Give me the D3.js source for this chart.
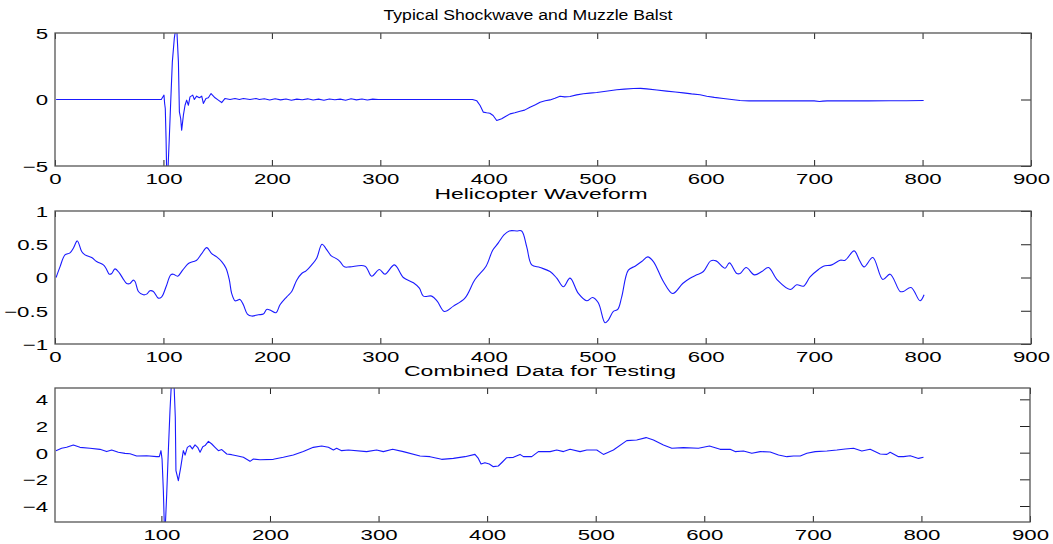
<!DOCTYPE html>
<html>
<head>
<meta charset="utf-8">
<script src="https://cdn.jsdelivr.net/npm/d3@7"></script>
<style>
  html, body { margin: 0; padding: 0; background: #fff; }
  svg { display: block; }
  text { font-family: "Liberation Sans", Arial, Helvetica, sans-serif; fill: #000; }
</style>
</head>
<body>
<svg id="chart" width="1053" height="544"></svg>
<script>
// ---------------- DATA ----------------
const titles = ["Typical Shockwave and Muzzle Balst", "Helicopter Waveform", "Combined Data for Testing"];

const shockX = [1, 20, 40, 60, 80, 95, 98, 99, 100.5, 101.1, 101.7, 102.4, 103, 104, 105.4, 106.7, 108.2, 110, 111.3, 112.3, 113.8, 114.7, 115.9, 116.8, 118.4, 119.9, 121.4, 123, 124.5, 127, 128.5, 130.6, 133.1, 135.3, 136.8, 139.2, 141.4, 143.9, 147.6, 150.6, 153.7, 156.8, 161.4, 166, 170, 173.7, 179.8, 185.4, 188.4, 193, 198, 203, 208, 213, 218, 223, 228, 233, 238, 243, 248, 253, 258, 263, 268, 273, 278, 283, 288, 293, 298, 305, 330, 360, 385, 389, 392, 395, 398, 401, 404, 407.3, 410, 411.9, 415, 419.6, 424, 428.8, 433, 438, 443, 447.3, 452, 456.5, 461, 465.7, 470, 474.9, 481, 487.2, 493, 499.5, 508, 518, 525, 533.3, 540, 545.6, 555, 564, 572, 579.4, 587, 594.8, 601, 608, 616.3, 624, 631.7, 640, 647, 660, 680, 700, 705, 708, 712, 730, 750, 770, 785, 801];
const shockY = [0, 0, 0, 0, 0, 0, 0, 0.13, 0.33, -0.3, -0.68, -2.9, -5.6, -5.6, -2.9, -0.18, 2.83, 4.59, 5.3, 5.3, 2.83, -0.93, -1.43, -2.3, -1.18, -0.43, -0.05, -0.43, 0.2, 0.33, 0, 0.25, 0.13, 0.25, -0.3, 0.08, 0.13, 0.45, 0.13, -0.05, -0.23, 0.08, 0, 0.08, 0, 0.08, 0, 0.08, 0, 0.06, -0.04, 0.05, -0.03, 0.04, -0.06, 0.03, -0.02, 0.05, -0.04, 0.03, -0.05, 0.04, -0.02, 0.03, -0.05, 0.05, -0.03, 0.04, -0.04, 0.03, 0, 0, 0, 0, 0, -0.1, -0.45, -0.95, -1.0, -1.03, -1.2, -1.58, -1.5, -1.45, -1.3, -1.08, -1.0, -0.88, -0.8, -0.58, -0.4, -0.2, -0.1, -0.03, 0.1, 0.25, 0.2, 0.23, 0.35, 0.43, 0.48, 0.53, 0.62, 0.73, 0.78, 0.83, 0.84, 0.8, 0.72, 0.63, 0.56, 0.5, 0.42, 0.36, 0.25, 0.16, 0.08, 0.0, -0.07, -0.1, -0.1, -0.1, -0.1, -0.1, -0.15, -0.12, -0.1, -0.1, -0.1, -0.09, -0.09, -0.08];

const heliX = [1, 4.6, 9.2, 13.8, 16.9, 20.6, 24.6, 27.7, 33.8, 38.4, 44.6, 47, 50.1, 52.3, 55.3, 59.3, 62.4, 66.1, 69.2, 72.2, 73.8, 76.9, 81.5, 84.5, 87.6, 90.7, 95.3, 98.4, 102.4, 106.7, 109.1, 113.1, 117.7, 123, 127.6, 130.6, 135.3, 139.9, 144.5, 149.1, 153.7, 157.7, 160.8, 162.9, 166, 168.5, 170.6, 173.7, 177.4, 181.4, 187.5, 192.1, 195.2, 198.3, 203.8, 207.5, 213.7, 218.3, 222.9, 227.5, 231.5, 236.7, 241.3, 246.2, 250.5, 254.5, 259.8, 262.8, 266.8, 272, 285.9, 292, 299.1, 304.3, 313, 321.2, 330.5, 336, 339.7, 347.4, 352.6, 359, 367.4, 378, 387.3, 397.5, 403.6, 408.8, 414, 418.9, 425.8, 430.3, 435, 439.6, 447.3, 456.5, 462.7, 468.8, 474.9, 482.6, 490.3, 495.8, 501, 507.2, 510.3, 514.9, 518.9, 522.6, 528.7, 534.9, 541, 546.6, 551.8, 561, 569.6, 578.8, 585.6, 591.8, 597.9, 604.7, 609.6, 617.9, 621.9, 628.7, 631.8, 637.3, 645, 651.8, 657.9, 666.2, 677.9, 684, 690.2, 696.3, 704, 708.6, 716.3, 724, 728.6, 736.9, 741.8, 746.1, 754.1, 763.3, 770.1, 779.3, 782.4, 789.4, 797.7, 801.4];
const heliY = [0, 0.16, 0.34, 0.37, 0.44, 0.55, 0.39, 0.34, 0.3, 0.24, 0.19, 0.14, 0.05, 0.06, 0.13, 0.07, -0.01, -0.09, -0.09, -0.04, -0.06, -0.21, -0.26, -0.25, -0.2, -0.21, -0.31, -0.29, -0.14, 0.04, 0.05, 0.02, 0.11, 0.21, 0.24, 0.26, 0.36, 0.45, 0.36, 0.31, 0.24, 0.14, -0.04, -0.24, -0.35, -0.34, -0.33, -0.41, -0.55, -0.58, -0.56, -0.55, -0.48, -0.49, -0.53, -0.41, -0.29, -0.21, -0.04, 0.06, 0.1, 0.19, 0.29, 0.5, 0.42, 0.33, 0.28, 0.24, 0.16, 0.16, 0.17, 0.02, 0.12, 0.05, 0.19, 0.0, -0.08, -0.16, -0.28, -0.28, -0.36, -0.51, -0.43, -0.31, -0.03, 0.17, 0.41, 0.52, 0.64, 0.7, 0.7, 0.7, 0.46, 0.19, 0.15, 0.09, -0.01, -0.14, -0.01, -0.24, -0.35, -0.3, -0.38, -0.68, -0.64, -0.51, -0.48, -0.29, 0.11, 0.17, 0.24, 0.31, 0.24, -0.06, -0.24, -0.09, -0.01, 0.04, 0.09, 0.25, 0.25, 0.14, 0.22, 0.06, 0.06, 0.15, 0.04, 0.09, 0.15, -0.04, -0.18, -0.11, -0.13, 0.01, 0.12, 0.17, 0.19, 0.26, 0.26, 0.4, 0.26, 0.16, 0.3, -0.03, 0.05, -0.21, -0.21, -0.15, -0.35, -0.26];

const combX = [2.9, 8.1, 12.7, 18.9, 25, 34.2, 43.4, 49.6, 54.2, 60.3, 66.5, 71.1, 77.2, 86.4, 95.6, 98.1, 99.6, 100.6, 101.8, 102.7, 103.6, 104.9, 106.4, 107.9, 109.2, 111.6, 112.8, 113.4, 115.6, 117.8, 120.2, 121.8, 123.9, 126.3, 128.5, 131, 133.4, 135.6, 138.1, 140.2, 143.3, 146.4, 149.4, 152.5, 155.6, 160.2, 164.7, 169.3, 175.5, 181.6, 184.7, 190.8, 203.1, 212.3, 221.5, 230.7, 239.9, 247.6, 253.8, 258.4, 261.4, 266, 272.2, 289, 298.2, 304.4, 313, 322.8, 338.2, 347.4, 358.1, 368.9, 379.6, 388.8, 391.9, 394.4, 398, 402, 405.7, 410.3, 414.3, 418, 424.2, 430.3, 433.4, 441.1, 447.2, 458, 464.1, 470.3, 476.4, 485.6, 491.8, 501, 507.1, 516.3, 528.6, 537.8, 546.4, 553.2, 562.4, 570.1, 580.8, 594.6, 604.8, 614.6, 623.8, 628.4, 636.1, 643.8, 651.5, 660.7, 668.4, 676.1, 682.2, 688.4, 694.5, 702.2, 712.9, 722.1, 729.8, 737.5, 745.1, 752.8, 762, 768.2, 771.2, 778.9, 783.5, 789.7, 797.3, 801.9];
const combY = [0.15, 0.33, 0.4, 0.58, 0.4, 0.33, 0.25, 0.08, 0.2, 0.03, -0.05, -0.08, -0.25, -0.23, -0.3, -0.3, 0.15, -0.48, -2.85, -5.5, -5.5, -3.1, 0.15, 3.15, 5.2, 5.2, 2.65, -1.35, -2.1, -1.1, 0.15, -0.18, 0.4, 0.53, 0.28, 0.58, 0.4, 0.03, 0.45, 0.53, 0.85, 0.65, 0.4, 0.15, 0.23, -0.1, -0.15, -0.23, -0.35, -0.65, -0.48, -0.53, -0.5, -0.35, -0.18, 0.08, 0.4, 0.5, 0.4, 0.2, 0.33, 0.15, 0.2, 0.08, 0.2, 0.08, 0.25, 0.08, -0.25, -0.3, -0.5, -0.43, -0.3, -0.13, -0.43, -0.85, -0.75, -0.85, -1.05, -1.0, -0.68, -0.38, -0.35, -0.13, -0.3, -0.3, 0.08, 0.08, 0.2, 0.08, 0.25, 0.08, 0.2, 0.2, -0.13, 0.2, 0.9, 0.95, 1.13, 0.95, 0.58, 0.33, 0.38, 0.33, 0.5, 0.25, 0.25, 0.08, 0.13, -0.05, 0.08, 0.05, -0.18, -0.3, -0.25, -0.25, -0.05, 0.08, 0.13, 0.2, 0.28, 0.33, 0.13, 0.25, -0.1, -0.13, 0.03, -0.3, -0.3, -0.23, -0.43, -0.35];

const xTicksFull = [0, 100, 200, 300, 400, 500, 600, 700, 800, 900];
const xTicksComb = [100, 200, 300, 400, 500, 600, 700, 800, 900];
const yTicksShock = [-5, 0, 5];
const yTicksHeli = [-1, -0.5, 0, 0.5, 1];
const yTicksComb = [-4, -2, 0, 2, 4];

// ---------------- LAYOUT ----------------
const panels = [
  { title: titles[0], xs: shockX, ys: shockY, top: 33, bottom: 166, left: 55, right: 1031, smooth: false,
    xDomain: [0, 900], yDomain: [-5, 5], xTicks: xTicksFull, yTicks: yTicksShock, titleY: 20, titleW: 289, titleCx: 528 },
  { title: titles[1], xs: heliX, ys: heliY, top: 211, bottom: 344, left: 55, right: 1031, smooth: true,
    xDomain: [0, 900], yDomain: [-1, 1], xTicks: xTicksFull, yTicks: yTicksHeli, titleY: 199, titleW: 213, titleCx: 541 },
  { title: titles[2], xs: combX, ys: combY, top: 388, bottom: 522, left: 55, right: 1030, smooth: false,
    xDomain: [2, 900], yDomain: [-5.2, 4.85], xTicks: xTicksComb, yTicks: yTicksComb, titleY: 376, titleW: 272, titleCx: 540 }
];

const svg = d3.select("#chart");
const STRETCH = 1.48;

function stretchText(sel, factor) {
  sel.each(function () {
    const w = this.getComputedTextLength();
    d3.select(this).attr("textLength", w * factor).attr("lengthAdjust", "spacingAndGlyphs");
  });
}

panels.forEach((p, i) => {
  const x = d3.scaleLinear().domain(p.xDomain).range([p.left, p.right]);
  const y = d3.scaleLinear().domain(p.yDomain).range([p.bottom, p.top]);
  const g = svg.append("g");

  const clipId = "clip" + i;
  svg.append("clipPath").attr("id", clipId).append("rect")
    .attr("x", p.left).attr("y", p.top).attr("width", p.right - p.left).attr("height", p.bottom - p.top);

  // data line
  const pts = p.xs.map((v, k) => [v, p.ys[k]]);
  const line = d3.line().x(d => x(d[0])).y(d => y(d[1]));
  if (p.smooth) line.curve(d3.curveCatmullRom.alpha(0.5));
  g.append("path")
    .datum(pts)
    .attr("clip-path", `url(#${clipId})`)
    .attr("fill", "none")
    .attr("stroke", "#1a1aff")
    .attr("stroke-width", 1.1)
    .attr("stroke-linejoin", "round")
    .attr("d", line);

  // bottom axis (inward ticks + labels)
  const bottomAx = g.append("g").attr("transform", `translate(0,${p.bottom})`)
    .call(d3.axisBottom(x).tickValues(p.xTicks).tickSize(-6).tickPadding(7).tickFormat(d3.format("d")));
  // top axis (inward ticks, no labels)
  const topAx = g.append("g").attr("transform", `translate(0,${p.top})`)
    .call(d3.axisTop(x).tickValues(p.xTicks).tickSize(-6).tickFormat(""));
  // right axis ticks pointing inward
  const rightAx = g.append("g").attr("transform", `translate(${p.right},0)`)
    .call(d3.axisLeft(y).tickValues(p.yTicks).tickSize(10).tickFormat(""));
  // left labels
  const leftAx = g.append("g").attr("transform", `translate(${p.left},0)`)
    .call(d3.axisLeft(y).tickValues(p.yTicks).tickSize(0).tickPadding(7).tickFormat(d => d3.format("")(d)));

  [bottomAx, topAx, rightAx, leftAx].forEach(a => {
    a.select(".domain").remove();
    a.selectAll("line").attr("stroke", "#222").attr("stroke-width", 1);
    a.selectAll("text").attr("font-size", 15).attr("fill", "#000")
      .style("font-family", '"Liberation Sans", Arial, sans-serif');
  });
  stretchText(bottomAx.selectAll("text"), STRETCH);
  stretchText(leftAx.selectAll("text"), STRETCH);
  leftAx.selectAll("text").attr("dy", "0.36em");

  // frame
  g.append("rect")
    .attr("x", p.left).attr("y", p.top)
    .attr("width", p.right - p.left).attr("height", p.bottom - p.top)
    .attr("fill", "none").attr("stroke", "#555").attr("stroke-width", 1.3);

  // title
  const t = g.append("text")
    .attr("x", p.titleCx).attr("y", p.titleY)
    .attr("text-anchor", "middle")
    .attr("font-size", 14)
    .text(p.title);
  t.attr("textLength", p.titleW).attr("lengthAdjust", "spacingAndGlyphs");
});
</script>
</body>
</html>
